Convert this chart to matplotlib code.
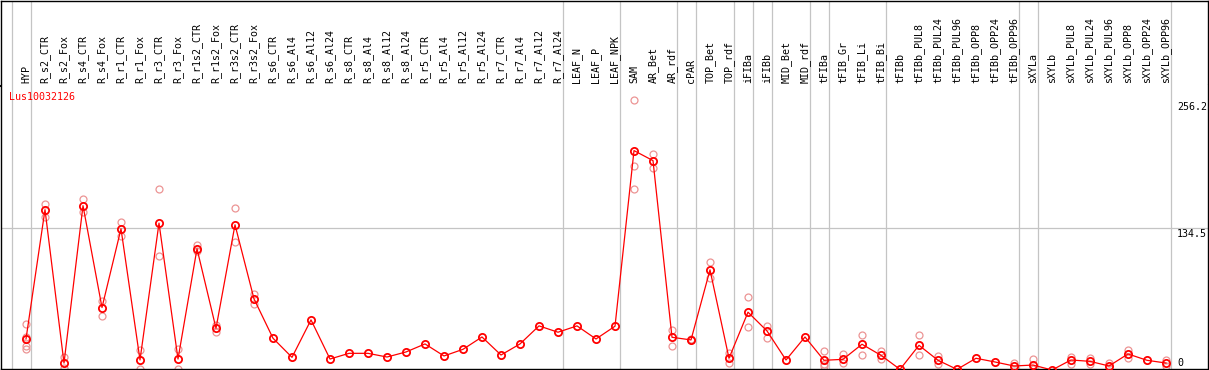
import matplotlib
matplotlib.use("Agg")
import matplotlib.pyplot as plt
import matplotlib.transforms as mtransforms

# sample names (columns)
samples = ["HYP", "R_s2_CTR", "R_s2_Fox", "R_s4_CTR", "R_s4_Fox", "R_r1_CTR", "R_r1_Fox",
           "R_r3_CTR", "R_r3_Fox", "R_r1s2_CTR", "R_r1s2_Fox", "R_r3s2_CTR", "R_r3s2_Fox",
           "R_s6_CTR", "R_s6_Al4", "R_s6_Al12", "R_s6_Al24", "R_s8_CTR", "R_s8_Al4",
           "R_s8_Al12", "R_s8_Al24", "R_r5_CTR", "R_r5_Al4", "R_r5_Al12", "R_r5_Al24",
           "R_r7_CTR", "R_r7_Al4", "R_r7_Al12", "R_r7_Al24", "LEAF_N", "LEAF_P", "LEAF_NPK",
           "SAM", "AR_Bet", "AR_rdf", "cPAR", "TOP_Bet", "TOP_rdf", "iFIBa", "iFIBb",
           "MID_Bet", "MID_rdf", "tFIBa", "tFIB_Gr", "tFIB_Li", "tFIB_Bi", "tFIBb",
           "tFIBb_PUL8", "tFIBb_PUL24", "tFIBb_PUL96", "tFIBb_OPP8", "tFIBb_OPP24",
           "tFIBb_OPP96", "sXYLa", "sXYLb", "sXYLb_PUL8", "sXYLb_PUL24", "sXYLb_PUL96",
           "sXYLb_OPP8", "sXYLb_OPP24", "sXYLb_OPP96"]

# mean expression per sample
means = [29.4, 151.9, 6.6, 155.7, 59.2, 133.8, 9.5, 139.2, 10.4, 114.9, 39.5, 137.6, 67.4,
         30.1, 12.0, 47.5, 10.4, 15.8, 15.8, 12.3, 17.1, 24.7, 13.3, 19.6, 31.3,
         14.2, 24.7, 41.8, 35.8, 41.8, 29.4, 41.5,
         207.9, 198.4, 31.0, 28.5, 94.9, 11.1, 54.8, 37.0, 9.5, 31.3,
         9.2, 10.1, 24.4, 13.9, 0.6, 23.4, 9.2, 0.6, 11.1, 7.6, 3.8,
         4.7, 0.0, 9.5, 8.2, 3.8, 15.2, 9.2, 6.6]

# replicate values (empty where only one sample)
replicates = [[43.4, 31.6, 23.1, 19.6], [157.6, 144.9], [12.7, 1.6], [162.3, 149.7],
              [65.8, 51.3], [140.5, 127.2], [18.7, 0.6], [171.8, 107.6], [19.9, 0.9],
              [118.3, 112.3], [42.4, 36.4], [153.5, 121.2], [71.8, 62.6],
              [], [], [], [], [], [], [], [], [], [], [], [], [], [], [], [], [], [], [],
              [256.2, 193.0, 171.5], [205.0, 191.4], [38.0, 23.0], [29.0, 28.0],
              [102.5, 87.0], [15.8, 6.9], [69.0, 40.5], [42.0, 30.7], [], [],
              [18.0, 4.1, 5.6], [14.9, 6.9], [32.9, 14.5], [18.0, 10.1], [],
              [33.2, 14.2], [13.6, 5.4], [], [], [], [6.9, 1.0],
              [10.4, 1.2], [], [12.3, 5.7], [11.7, 5.7], [6.9, 2.2], [19.3, 11.1], [], [9.2, 3.8]]

# last sample of each tissue group (separator drawn right after)
group_ends = [-1, 0, 28, 31, 34, 35, 37, 38, 39, 41, 42, 45, 52, 53, 60]

W, H = 1209, 370
fig = plt.figure(figsize=(W / 100, H / 100), dpi=100)
mono = "DejaVu Sans Mono"
fs = 7.2

xlim = ((1 - 26) / 19, (1208 - 26) / 19)
left = 1 / W
width = 1207 / W
ax_h = fig.add_axes([left, 1 - 85.5 / H, width, 85 / H])
ax = fig.add_axes([left, 1 / H, width, 284.5 / H])

for a in (ax_h, ax):
    a.set_xlim(xlim)
    a.set_xticks([])
    a.set_yticks([])
    for s in a.spines.values():
        s.set_color("black")
        s.set_linewidth(1.0)
    for g in group_ends:
        a.axvline(g + 0.25, color="#c4c4c4", lw=0.9, zorder=0)
ax.spines["top"].set_visible(False)
ax_h.spines["bottom"].set_linewidth(1.4)

ax_h.set_ylim(0, 1)
tr = mtransforms.blended_transform_factory(ax_h.transData, ax_h.transAxes)
for i, name in enumerate(samples):
    ax_h.text(i, 2.5 / 85, name, rotation=90, ha="center", va="bottom",
              family=mono, fontsize=fs, transform=tr)

# value -> pixel: 0 at 370, 134.5 at 228.3
k = (370 - 228.3) / 134.5
ax.set_ylim((370 - 369) / k, (370 - 85) / k)

ax.axhline(134.5, color="#c4c4c4", lw=0.9, zorder=0)

xs = list(range(len(samples)))
for i, reps in enumerate(replicates):
    if reps:
        ax.plot([i] * len(reps), reps, "o", ms=5.0, mfc="none", mec="#ec9494",
                mew=0.9, zorder=2)
ax.plot(xs, means, "-", color="red", lw=0.9, zorder=3)
ax.plot(xs, means, "o", ms=5.2, mfc="none", mec="red", mew=1.3, zorder=4)

trt = mtransforms.blended_transform_factory(ax.transAxes, ax.transData)
xt = (1177 - 1) / 1207
ax.text(xt, 256.2 - 2, "256.2", family=mono, fontsize=fs, ha="left", va="top", transform=trt)
ax.text(xt, 134.5 - 1, "134.5", family=mono, fontsize=fs, ha="left", va="top", transform=trt)
ax.text(xt, 2.0, "0", family=mono, fontsize=fs, ha="left", va="bottom", transform=trt)

fig.text(9 / W, 1 - 97.5 / H, "Lus10032126", color="red", family=mono, fontsize=fs,
         ha="left", va="center")

fig.savefig("out.png", dpi=100)
